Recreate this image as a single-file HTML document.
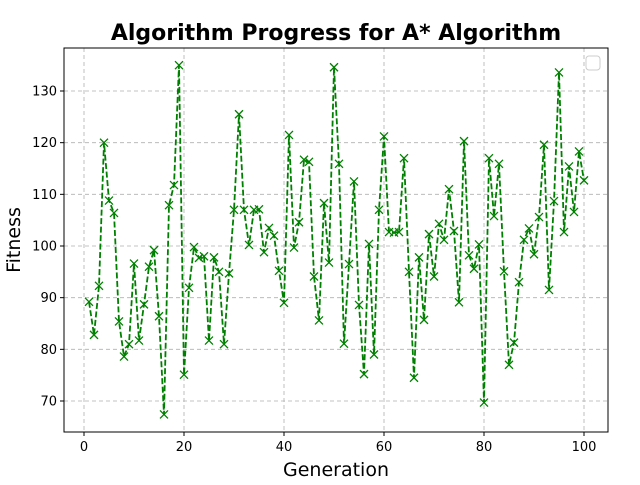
<!DOCTYPE html>
<html><head><meta charset="utf-8"><style>
body{margin:0;background:#fff;width:640px;height:480px;overflow:hidden}
svg text{font-family:"DejaVu Sans","Liberation Sans",sans-serif}
</style></head><body>
<svg id="c" width="640" height="480">
<text x="336" y="40" text-anchor="middle" font-size="22" font-weight="bold">Algorithm Progress for A* Algorithm</text>
<text x="336" y="476" text-anchor="middle" font-size="19">Generation</text>
<text transform="translate(20,240) rotate(-90)" text-anchor="middle" font-size="19">Fitness</text>
<g id="grid"></g><g id="ticks"></g><g id="series"></g>
<rect x="64" y="48" width="544" height="384" fill="none" stroke="#000" stroke-width="1"/>
<rect x="586" y="56" width="14" height="14" rx="3" fill="#fff" stroke="#ccc"/>
</svg>
<script>
const generations=[];for(let i=1;i<=100;i++)generations.push(i);
const fitness=[89.2,82.8,92.3,120,108.8,106.4,85.4,78.6,81,96.6,81.7,88.7,96,99.2,86.4,67.4,107.9,111.8,135,75.1,91.9,99.8,97.7,98,81.7,97.8,95,81,94.7,107,125.5,107,100.2,107,107.1,98.8,103.5,102,95.2,89,121.5,99.7,104.6,116.7,116.3,94.1,85.6,108.3,96.8,134.6,115.9,81.1,96.5,112.5,88.6,75.2,100.4,79,107,121.2,102.7,102.6,102.7,117,95,74.5,97.8,85.7,102.3,94.1,104.3,101.2,111,102.9,89.1,120.3,98.2,95.6,100.3,69.7,117,105.8,115.9,95.1,77,81.3,93,101.2,103.4,98.4,105.6,119.6,91.5,108.7,133.6,102.7,115.4,106.6,118.3,112.7];
const xTicks=[0,20,40,60,80,100];
const yTicks=[70,80,90,100,110,120,130];
const NS="http://www.w3.org/2000/svg";
const xs=v=>84+v*5, ys=v=>401-(v-70)*310/60;
function mk(t,a,p){const e=document.createElementNS(NS,t);for(const k in a)e.setAttribute(k,a[k]);p.appendChild(e);return e;}
const grid=document.getElementById('grid'),ticks=document.getElementById('ticks'),ser=document.getElementById('series');
xTicks.forEach(v=>{const x=xs(v);
 const g=mk('line',{x1:x,x2:x,y1:48,y2:432,stroke:'#b0b0b0','stroke-dasharray':'4,3','stroke-width':0.8},grid);
 
 
 mk('line',{x1:x,x2:x,y1:432,y2:436,stroke:'#000'},ticks);
 const t=mk('text',{x:x,y:451,'text-anchor':'middle','font-size':13},ticks);t.textContent=v;
 
 });
yTicks.forEach(v=>{const y=ys(v);
 const g=mk('line',{x1:64,x2:608,y1:y,y2:y,stroke:'#b0b0b0','stroke-dasharray':'4,3','stroke-width':0.8},grid);
 
 
 mk('line',{x1:60,x2:64,y1:y,y2:y,stroke:'#000'},ticks);
 const t=mk('text',{x:57,y:y+4.5,'text-anchor':'end','font-size':13},ticks);t.textContent=v;
 
 });
const pts=fitness.map((f,i)=>xs(generations[i])+','+ys(f)).join(' ');
const pl=mk('polyline',{points:pts,fill:'none',stroke:'#008000','stroke-width':1.8,'stroke-dasharray':'6,2.5'},ser);


fitness.forEach((f,i)=>{const x=xs(generations[i]),y=ys(f);
 const m=mk('path',{d:`M${x-4},${y-4}L${x+4},${y+4}M${x-4},${y+4}L${x+4},${y-4}`,stroke:'#008000','stroke-width':1.3},ser);
 
 });
</script>
</body></html>
